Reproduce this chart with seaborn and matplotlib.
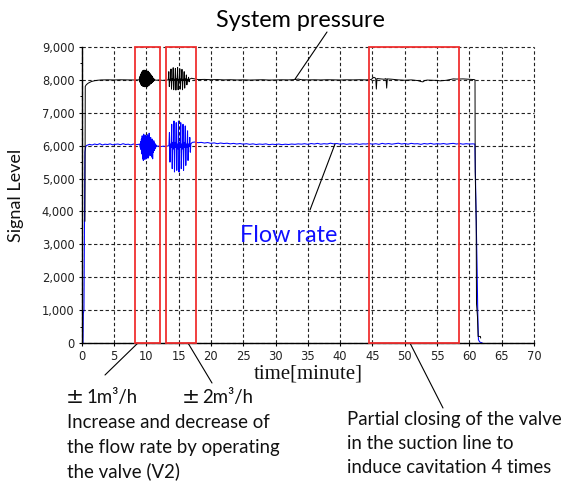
import matplotlib
matplotlib.use("Agg")
import matplotlib.pyplot as plt
import matplotlib.ticker as mticker
from matplotlib.patches import Rectangle
import seaborn as sns
import pandas as pd

# ---------------- data ----------------
# Flow rate (blue)
flow_t_start = [0.0, 0.2, 0.25, 0.3, 0.35, 0.5, 0.6, 0.7]
flow_v_start = [0, 0, 900, 950, 1000, 5800, 5950, 6000]

flow_t_flat1 = [0.8, 1.2, 1.6, 2.0, 2.4, 2.8, 3.2, 3.6, 4.0, 4.4, 4.8, 5.2, 5.6, 6.0,
                6.4, 6.8, 7.2, 7.6, 8.0, 8.4, 8.8]
flow_v_flat1 = [6010, 6040, 6020, 6050, 6030, 6060, 6020, 6045, 6035, 6055, 6025, 6040,
                6050, 6030, 6060, 6035, 6045, 6020, 6050, 6030, 6040]

flow_t_burst1 = [9.00, 9.06, 9.12, 9.18, 9.24, 9.30, 9.36, 9.42, 9.48, 9.54, 9.60, 9.66,
                 9.72, 9.78, 9.84, 9.90, 9.96, 10.02, 10.08, 10.14, 10.20, 10.26, 10.32,
                 10.38, 10.44, 10.50, 10.56, 10.62, 10.68, 10.74, 10.80, 10.86, 10.92,
                 10.98, 11.04, 11.10, 11.16, 11.22, 11.28, 11.34, 11.40, 11.46, 11.52, 11.58]
flow_v_burst1 = [6050, 5950, 6120, 5880, 6200, 5750, 6300, 5600, 6280, 5550, 6350, 5620,
                 6250, 5580, 6320, 5650, 6300, 5600, 6280, 5700, 6330, 5620, 6250,
                 5680, 6380, 5750, 6200, 5700, 6250, 5800, 6150, 5650, 6200,
                 5600, 6100, 5800, 6150, 5850, 6080, 5900, 6050, 5950, 6020, 5980]

flow_t_mid = [11.8, 12.2, 12.6, 13.0, 13.3]
flow_v_mid = [5990, 5970, 5985, 5975, 5990]

flow_t_burst2 = [13.50, 13.58, 13.66, 13.74, 13.85, 13.93, 14.01, 14.09,
                 14.20, 14.28, 14.36, 14.44, 14.55, 14.63, 14.71, 14.79,
                 14.90, 14.98, 15.06, 15.14, 15.25, 15.33, 15.41, 15.49,
                 15.60, 15.68, 15.76, 15.84, 15.95, 16.03, 16.11, 16.19,
                 16.30, 16.38, 16.46, 16.54, 16.65, 16.73, 16.81, 16.89, 17.1]
flow_v_burst2 = [6000, 6400, 5500, 6050, 5950, 6650, 5300, 6100,
                 5900, 6750, 5200, 6100, 5950, 6700, 5250, 6050,
                 5900, 6750, 5200, 6100, 5950, 6700, 5300, 6050,
                 5900, 6650, 5250, 6100, 5950, 6600, 5400, 6050,
                 5950, 6450, 5550, 6050, 5980, 6250, 5800, 6050, 6100]

flow_t_flat2 = [17.5, 18.0, 18.5, 19.0, 19.5, 20.0, 20.5, 21.0, 21.5, 22.0, 22.5, 23.0,
                23.5, 24.0, 24.5, 25.0, 25.5, 26.0, 26.5, 27.0, 27.5, 28.0, 28.5, 29.0,
                29.5, 30.0, 30.5, 31.0, 31.5, 32.0, 32.5, 33.0, 33.5, 34.0, 34.5, 35.0,
                35.5, 36.0, 36.5, 37.0, 37.5, 38.0, 38.5, 39.0, 39.5, 40.0, 40.5, 41.0,
                41.5, 42.0, 42.5, 43.0, 43.5, 44.0, 44.5, 45.0, 45.5, 46.0, 46.5, 47.0,
                47.5, 48.0, 48.5, 49.0, 49.5, 50.0, 50.5, 51.0, 51.5, 52.0, 52.5, 53.0,
                53.5, 54.0, 54.5, 55.0, 55.5, 56.0, 56.5, 57.0, 57.5, 58.0, 58.5, 59.0,
                59.5, 60.0, 60.5]
flow_v_flat2 = [6110, 6090, 6100, 6080, 6095, 6070, 6085, 6060, 6080, 6065, 6075, 6055,
                6070, 6050, 6065, 6045, 6060, 6040, 6055, 6035, 6050, 6040, 6055, 6030,
                6045, 6035, 6050, 6030, 6045, 6035, 6050, 6040, 6055, 6045, 6060, 6040,
                6065, 6050, 6070, 6045, 6060, 6050, 6075, 6055, 6065, 6045, 6060, 6040,
                6055, 6045, 6060, 6040, 6055, 6050, 6065, 6045, 6060, 6040, 6070, 6050,
                6065, 6045, 6060, 6075, 6050, 6065, 6045, 6070, 6055, 6060, 6040, 6065,
                6050, 6070, 6045, 6060, 6050, 6065, 6045, 6060, 6070, 6050, 6065, 6045,
                6060, 6050, 6055]

flow_t_end = [60.85, 60.9, 61.0, 61.1, 61.2, 61.3, 61.4, 61.6, 62.0]
flow_v_end = [6050, 5500, 4500, 3300, 2200, 900, 100, 30, 0]

# System pressure (black)
pres_t_start = [0.5, 0.55, 0.7, 1.0, 1.5, 2.0, 2.5, 3.0, 4.0, 5.0, 6.0, 7.0, 8.0, 8.8]
pres_v_start = [3700, 7800, 7850, 7900, 7950, 7975, 7990, 7998, 8002, 7998, 8003, 8000,
                7997, 8000]

pres_t_burst1 = [8.90, 8.95, 9.00, 9.05, 9.10, 9.15, 9.20, 9.25, 9.30, 9.35, 9.40, 9.45,
                 9.50, 9.55, 9.60, 9.65, 9.70, 9.75, 9.80, 9.85, 9.90, 9.95, 10.00,
                 10.05, 10.10, 10.15, 10.20, 10.25, 10.30, 10.35, 10.40, 10.45, 10.50,
                 10.55, 10.60, 10.65, 10.70, 10.75, 10.80, 10.85, 10.90, 10.95, 11.00,
                 11.05, 11.10, 11.15, 11.20, 11.25, 11.30]
pres_v_burst1 = [8000, 8080, 7930, 8120, 7900, 8180, 7850, 8220, 7830, 8250, 7820, 8280,
                 7800, 8260, 7810, 8300, 7790, 8270, 7820, 8290, 7800, 8260, 7780,
                 8280, 7810, 8250, 7790, 8270, 7820, 8240, 7830, 8220, 7850,
                 8200, 7870, 8170, 7890, 8150, 7900, 8120, 7920, 8090, 7940,
                 8060, 7960, 8040, 7980, 8010, 8000]

pres_t_mid = [11.6, 12.0, 12.5, 13.0, 13.3]
pres_v_mid = [7990, 8000, 7985, 7995, 8000]

pres_t_burst2 = [13.40, 13.48, 13.56, 13.64, 13.74, 13.82, 13.90, 13.98,
                 14.08, 14.16, 14.24, 14.32, 14.42, 14.50, 14.58, 14.66,
                 14.76, 14.84, 14.92, 15.00, 15.10, 15.18, 15.26, 15.34,
                 15.44, 15.52, 15.60, 15.68, 15.78, 15.86, 15.94, 16.02,
                 16.12, 16.20, 16.28, 16.36, 16.46, 16.54, 16.62, 16.70]
pres_v_burst2 = [8000, 8250, 7800, 8020, 7990, 8330, 7720, 8030,
                 7980, 8370, 7700, 8020, 7990, 8350, 7690, 8030,
                 7980, 8380, 7700, 8020, 7990, 8340, 7720, 8030,
                 7980, 8320, 7700, 8020, 7990, 8250, 7750, 8030,
                 7990, 8150, 7850, 8020, 8000, 8080, 7940, 8020]

pres_t_flat2 = [17.0, 17.5, 18.0, 19.0, 20.0, 21.0, 22.0, 23.0, 24.0, 25.0, 26.0, 27.0,
                28.0, 29.0, 30.0, 31.0, 32.0, 33.0, 33.5, 34.0, 35.0, 36.0, 37.0, 38.0,
                39.0, 40.0, 41.0, 42.0, 43.0, 44.0, 44.8, 45.2, 45.5, 45.6, 45.7, 46.2,
                46.8, 47.1, 47.2, 47.3, 48.0, 49.0, 50.0, 51.0, 52.0, 52.5, 52.8, 53.1,
                53.5, 54.0, 55.0, 55.5, 56.0, 56.5, 57.0, 57.5, 58.0, 59.0, 60.0, 60.7]
pres_v_flat2 = [8050, 8030, 8010, 8015, 8005, 8010, 8000, 8005, 7998, 8002, 7995, 8000,
                8005, 7995, 8000, 8003, 8000, 8010, 8025, 8005, 8000, 8003, 7998, 8005,
                8000, 7997, 8003, 8000, 8005, 8000, 8010, 8080, 8050, 7720, 8040, 8030,
                8020, 8040, 7750, 8030, 8020, 8000, 7990, 8000, 7980, 7950, 7940, 7980,
                7995, 7990, 7985, 7970, 7980, 7990, 8010, 8030, 8025, 8030, 8020, 8010]

pres_t_end = [60.87, 60.9, 61.05, 61.1, 61.25, 61.35, 61.7, 61.75]
pres_v_end = [8000, 5200, 3700, 1200, 800, 200, 200, 150]

# Highlight boxes (start, end in minutes)
box_start = [8.2, 13.05, 44.4]
box_end = [12.1, 17.65, 58.4]

x_ticks = [0, 5, 10, 15, 20, 25, 30, 35, 40, 45, 50, 55, 60, 65, 70]
y_ticks = [0, 1000, 2000, 3000, 4000, 5000, 6000, 7000, 8000, 9000]

# ---------------- build tables ----------------
flow_df = pd.DataFrame({
    "time": flow_t_start + flow_t_flat1 + flow_t_burst1 + flow_t_mid + flow_t_burst2
            + flow_t_flat2 + flow_t_end,
    "level": flow_v_start + flow_v_flat1 + flow_v_burst1 + flow_v_mid + flow_v_burst2
             + flow_v_flat2 + flow_v_end,
})
pres_df = pd.DataFrame({
    "time": pres_t_start + pres_t_burst1 + pres_t_mid + pres_t_burst2 + pres_t_flat2
            + pres_t_end,
    "level": pres_v_start + pres_v_burst1 + pres_v_mid + pres_v_burst2 + pres_v_flat2
             + pres_v_end,
})

# ---------------- plot ----------------
sns.set_theme(style="white")
plt.rcParams["font.family"] = ["DejaVu Sans"]

W, H = 563, 482
fig = plt.figure(figsize=(W / 100, H / 100), dpi=100)
ax = fig.add_axes([81.7 / W, 1 - 343 / H, (534 - 81.7) / W, (343 - 47) / H])

sns.lineplot(data=flow_df, x="time", y="level", ax=ax, color="#0000ff", lw=0.75,
             estimator=None, sort=False)
sns.lineplot(data=pres_df, x="time", y="level", ax=ax, color="black", lw=0.7,
             estimator=None, sort=False)

for s, e in zip(box_start, box_end):
    ax.add_patch(Rectangle((s, -15), e - s, 9015, fill=False, edgecolor="#f03030",
                           lw=1.3, clip_on=False, zorder=4))

ax.set_xlim(0, 70)
ax.set_ylim(0, 9000)
ax.set_xticks(x_ticks)
ax.set_yticks(y_ticks)
ax.yaxis.set_minor_locator(mticker.MultipleLocator(500))
ax.yaxis.set_major_formatter(mticker.StrMethodFormatter("{x:,.0f}"))

ax.grid(True, which="major", linestyle=(0, (3, 2.2)), color="#222222", lw=0.8)
for gl in ax.get_xgridlines() + ax.get_ygridlines():
    gl.set_clip_on(False)
ax.set_axisbelow(True)

for side in ["top", "right"]:
    ax.spines[side].set_visible(False)
for side in ["left", "bottom"]:
    ax.spines[side].set_color("black")
    ax.spines[side].set_linewidth(1.0)

ax.tick_params(axis="both", which="major", labelsize=8.3, labelcolor="#222222",
               direction="out", length=2.2, width=0.8, color="black", pad=3)
ax.tick_params(axis="y", which="minor", direction="out", length=1.6, width=0.7,
               color="black", left=True)
ax.tick_params(axis="x", which="major", bottom=True)
ax.tick_params(axis="y", which="major", left=True)

ax.set_xlabel("time[minute]", family="Liberation Serif", fontsize=15, color="#111111")
ax.xaxis.label.set_va("baseline")
ax.xaxis.set_label_coords((308 - 81.7) / 452.3, -(379 - 343) / 296)
ax.set_ylabel("Signal Level", family="Lato", fontsize=13, color="#111111")
ax.yaxis.label.set_va("center")
ax.yaxis.set_label_coords((16 - 81.7) / 452.3, (343 - 195) / 296)


def fx(px):
    return px / W


def fy(py):
    return 1 - py / H


# Title-like labels
fig.text(fx(300), fy(27), "System pressure", family="Lato", fontsize=16.8,
         ha="center", va="baseline", color="black")
fig.text(fx(240), fy(242), "Flow rate", family="Lato", fontsize=16.8,
         ha="left", va="baseline", color="#1010ff")

line_kw = dict(arrowstyle="-", lw=0.8, color="black", shrinkA=0, shrinkB=0)
ax.annotate("", xy=(33.0, 8020), xycoords="data", xytext=(fx(327), fy(32)),
            textcoords="figure fraction", arrowprops=line_kw, annotation_clip=False)
ax.annotate("", xy=(39.2, 6050), xycoords="data", xytext=(fx(310), fy(210)),
            textcoords="figure fraction", arrowprops=line_kw, annotation_clip=False)
ax.annotate("", xy=(8.7, 0), xycoords="data", xytext=(fx(105), fy(375)),
            textcoords="figure fraction", arrowprops=line_kw, annotation_clip=False)
ax.annotate("", xy=(16.45, 0), xycoords="data", xytext=(fx(212), fy(383)),
            textcoords="figure fraction", arrowprops=line_kw, annotation_clip=False)
ax.annotate("", xy=(50.8, 0), xycoords="data", xytext=(fx(443), fy(408)),
            textcoords="figure fraction", arrowprops=line_kw, annotation_clip=False)

txt_kw = dict(family=["Lato", "DejaVu Sans"], fontsize=13.4, ha="left", va="baseline",
              color="#111111")
pm_kw = dict(family=["DejaVu Sans"], fontsize=15.5, ha="center", va="baseline",
             color="#111111")
fig.text(fx(75), fy(403), "±", **pm_kw)
fig.text(fx(86), fy(403), "1m³/h", **txt_kw)
fig.text(fx(191), fy(403), "±", **pm_kw)
fig.text(fx(202), fy(403), "2m³/h", **txt_kw)
for i, line in enumerate(["Increase and decrease of",
                          "the flow rate by operating",
                          "the valve (V2)"]):
    fig.text(fx(67), fy(428 + 24.5 * i), line, **txt_kw)
for i, line in enumerate(["Partial closing of the valve",
                          "in the suction line to",
                          "induce cavitation 4 times"]):
    fig.text(fx(347), fy(425 + 24 * i), line, **txt_kw)

fig.savefig("out.png", dpi=100)
